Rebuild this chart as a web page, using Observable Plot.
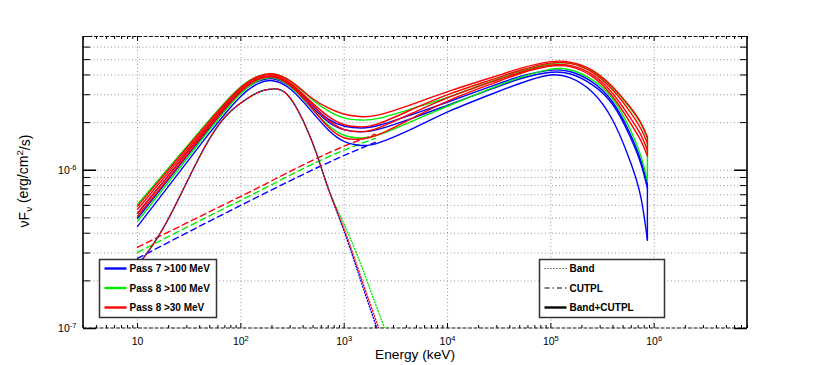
<!DOCTYPE html>
<html><head><meta charset="utf-8">
<script src="https://cdn.jsdelivr.net/npm/d3@7"></script>
<script src="https://cdn.jsdelivr.net/npm/@observablehq/plot@0.6"></script>
<style>
body{margin:0;background:#fff}
#chart{position:relative;width:830px;height:365px}
</style>
</head><body><div id="chart"></div>
<script>
// ---------- data (values in units of 1e-6 erg/cm^2/s) ----------
const unit = 1e-6;
const energies = [10,20,50,100,150,200,300,500,700,1000,1500,2000,5000,1e4,3e4,5e4,1e5,1.5e5,2.5e5,4e5,6e5,7.5e5,8.6e5];

// Band+CUTPL, Pass 8 >30 MeV (red)
const red1 = [0.592,1.01,2.07,3.45,3.99,4.17,3.77,2.77,2.47,2.23,2.17,2.17,2.66,3.16,3.94,4.42,4.93,4.90,4.42,3.40,2.47,2.01,1.62];
const red2 = [0.566,0.971,2.01,3.40,3.94,4.11,3.66,2.62,2.17,1.90,1.87,1.90,2.50,3.03,3.82,4.30,4.83,4.83,4.30,3.26,2.30,1.84,1.48];
const red3 = [0.534,0.930,1.95,3.30,3.88,4.05,3.61,2.54,2.04,1.77,1.74,1.79,2.36,2.90,3.71,4.17,4.69,4.69,4.17,3.12,2.10,1.69,1.34];
const red4 = [0.512,0.890,1.90,3.26,3.82,3.99,3.55,2.43,1.84,1.55,1.57,1.62,2.20,2.77,3.61,4.11,4.62,4.62,4.05,2.98,1.95,1.55,1.23];
// Band+CUTPL, Pass 8 >100 MeV (green)
const green1 = [0.609,1.03,2.10,3.50,3.99,4.17,3.77,2.73,2.36,2.10,2.07,2.07,2.50,2.86,3.77,4.23,4.76,4.83,4.36,3.35,2.43,1.98,1.59];
const green2 = [0.476,0.839,1.82,3.16,3.77,3.94,3.50,2.40,1.90,1.62,1.59,1.62,2.10,2.54,3.40,3.88,4.42,4.42,3.82,2.94,1.79,1.24,0.864];
// Band+CUTPL, Pass 7 >100 MeV (blue)
const blue1 = [0.534,0.930,1.95,3.30,3.82,3.99,3.61,2.54,2.07,1.87,1.84,1.87,2.30,2.69,3.50,3.94,4.36,4.30,3.71,2.81,1.67,1.16,0.816];
const blue2 = [0.497,0.877,1.87,3.21,3.71,3.88,3.50,2.47,1.98,1.77,1.74,1.77,2.17,2.58,3.35,3.82,4.23,4.17,3.55,2.73,1.59,1.11,0.769];
const blue3 = [0.442,0.792,1.74,3.03,3.61,3.77,3.40,2.30,1.77,1.48,1.42,1.44,1.87,2.36,3.12,3.55,4.11,3.94,3.26,2.17,1.11,0.715,0.361];

// Band component (dotted)
const bandEnergies = [10,20,50,100,150,200,300,500,700,1000,1500,2000,2500,3000];
const bandBlue  = [0.250,0.497,1.59,2.66,3.12,3.26,2.86,1.46,0.769,0.411,0.1872,0.1076,0.0705,null];
const bandRed   = [0.250,0.497,1.59,2.66,3.12,3.26,2.86,1.46,0.769,0.423,0.1984,0.1157,0.0758,null];
const bandGreen = [0.250,0.497,1.59,2.66,3.12,3.26,2.86,1.46,0.769,0.455,0.2398,0.1440,0.0971,0.0665];

// CUTPL component (dashed)
const cutEnergies = [10,100,1000,2000];
const cutRed   = [0.326,0.684,1.419,1.690];
const cutGreen = [0.303,0.646,1.34,1.59];
const cutBlue  = [0.277,0.600,1.24,1.50];

// ticks / labels
const xDomain = [3, 8e6];
const yDomain = [1e-7, 7e-6];
const majorX = [10, 100, 1e3, 1e4, 1e5, 1e6];
const majorXLabels = ["10", "10^2", "10^3", "10^4", "10^5", "10^6"];
const majorY = [1e-7, 1e-6];
const majorYLabels = ["10^-7", "10^-6"];
const mantissas = [2,3,4,5,6,7,8,9];

const seriesNames = ["Pass 7 >100 MeV", "Pass 8 >100 MeV", "Pass 8 >30 MeV"];
const seriesColors = ["#0000ff", "#00ee00", "#ff0000"];
const modelNames = ["Band", "CUTPL", "Band+CUTPL"];

// ---------- layout ----------
const W = 830, H = 365;
const mL = 83, mR = 83, mT = 36, mB = 37;
const plotW = W - mL - mR, plotH = H - mT - mB;
const font = "'Liberation Sans', Arial, Helvetica, sans-serif";

const minorX = [1,10,100,1e3,1e4,1e5,1e6].flatMap(d => mantissas.map(m => m*d))
  .filter(v => v >= xDomain[0] && v <= xDomain[1]);
const minorY = [1e-7,1e-6].flatMap(d => mantissas.map(m => m*d))
  .filter(v => v <= yDomain[1]);
const gridYvals = minorY.concat([1e-6]).filter(v => v < yDomain[1]);

function rows(curves) {
  return curves.flatMap((arr, k) => arr.map((v, j) => ({E: energies[j], F: v*unit, k})));
}
function simple(xs, ys) {
  return ys.map((v, j) => ({E: xs[j], F: v == null ? NaN : v*unit})).filter(d => !isNaN(d.F));
}
const solidSets = [[blue1,blue2,blue3],[green1,green2],[red1,red2,red3,red4]];
const bandSets = [bandBlue, bandGreen, bandRed];
const cutSets = [cutBlue, cutGreen, cutRed];

const marks = [
  Plot.gridX(majorX, {stroke: "#999", strokeOpacity: 1, strokeWidth: 1, strokeDasharray: "1,2.5"}),
  Plot.gridY(gridYvals, {stroke: "#999", strokeOpacity: 1, strokeWidth: 1, strokeDasharray: "1,2.5"}),
];
// CUTPL dashed
[0,1,2].forEach(i => {
  marks.push(Plot.line(simple(cutEnergies, cutSets[i]), {x: "E", y: "F", stroke: seriesColors[i], strokeWidth: 1.4, strokeDasharray: "6,4", curve: "monotone-x"}));
});
// Band dotted (interleaved colours)
[1,0,2].forEach((i, n) => {
  marks.push(Plot.line(simple(bandEnergies, bandSets[i]), {x: "E", y: "F", stroke: seriesColors[i], strokeWidth: 1.4, strokeDasharray: "1,2", strokeDashoffset: n, curve: "natural", clip: true}));
});
// Band+CUTPL solid bundles
[0,1,2].forEach(i => {
  const r = rows(solidSets[i]);
  marks.push(Plot.line(r, {x: "E", y: "F", z: "k", stroke: seriesColors[i], strokeWidth: 1.4, curve: "basis"}));
  const last = solidSets[i].map(a => a[a.length-1]*unit);
  marks.push(Plot.ruleX([{E: energies[energies.length-1], lo: d3.min(last), hi: d3.max(last)}], {x: "E", y1: "lo", y2: "hi", stroke: seriesColors[i], strokeWidth: 1.4}));
});
// tick marks (inward)
marks.push(
  Plot.tickX(majorX, {x: d => d, insetTop: plotH - 5, stroke: "#000"}),
  Plot.tickX(majorX, {x: d => d, insetBottom: plotH - 5, stroke: "#000"}),
  Plot.tickX(minorX, {x: d => d, insetTop: plotH - 3, stroke: "#000"}),
  Plot.tickX(minorX, {x: d => d, insetBottom: plotH - 3, stroke: "#000"}),
  Plot.tickY(majorY, {y: d => d, insetRight: plotW - 13, stroke: "#000", strokeWidth: 1.5}),
  Plot.tickY(majorY, {y: d => d, insetLeft: plotW - 13, stroke: "#000", strokeWidth: 1.5}),
  Plot.tickY(minorY, {y: d => d, insetRight: plotW - 7, stroke: "#000"}),
  Plot.tickY(minorY, {y: d => d, insetLeft: plotW - 7, stroke: "#000"}),
  Plot.axisX(majorX, {anchor: "bottom", tickSize: 0, tickPadding: 9, fontSize: 10.5, tickFormat: d => majorXLabels[majorX.indexOf(d)]}),
  Plot.axisY(majorY, {anchor: "left", tickSize: 0, tickPadding: 7, fontSize: 10.5, tickFormat: d => majorYLabels[majorY.indexOf(d)]})
);

const plot = Plot.plot({
  width: W, height: H,
  marginLeft: mL, marginRight: mR, marginTop: mT, marginBottom: mB,
  x: {type: "log", domain: xDomain, label: null},
  y: {type: "log", domain: yDomain, label: null},
  style: {fontFamily: font, fontSize: "10.5px", background: "white", color: "#000"},
  marks
});
document.getElementById("chart").appendChild(plot);

const svg = d3.select(plot);
// superscripts in tick labels
svg.selectAll("text").each(function() {
  const t = this.textContent;
  if (t.includes("^")) {
    const [b, e] = t.split("^");
    const s = d3.select(this);
    s.text(b);
    s.append("tspan").attr("dy", "-0.5em").attr("font-size", "0.72em").text(e);
  }
});

const g = svg.append("g");
// frame
g.append("line").attr("x1", mL).attr("x2", mL).attr("y1", mT).attr("y2", mT+plotH).attr("stroke", "#000").attr("stroke-width", 1.6);
g.append("line").attr("x1", mL+plotW).attr("x2", mL+plotW).attr("y1", mT).attr("y2", mT+plotH).attr("stroke", "#000").attr("stroke-width", 1.6);
g.append("line").attr("x1", mL).attr("x2", mL+plotW).attr("y1", mT+0.5).attr("y2", mT+0.5).attr("stroke", "#111").attr("stroke-width", 1.1).attr("stroke-dasharray", "4,1.5");
g.append("line").attr("x1", mL).attr("x2", mL+plotW).attr("y1", mT+plotH).attr("y2", mT+plotH).attr("stroke", "#111").attr("stroke-width", 1.1).attr("stroke-dasharray", "4,1.5");

// axis titles
g.append("text").attr("x", mL + plotW/2).attr("y", 359).attr("text-anchor", "middle")
  .attr("font-family", font).attr("font-size", 13.7).attr("fill", "#000").text("Energy (keV)");
const yt = g.append("text").attr("transform", "translate(29,181) rotate(-90)").attr("text-anchor", "middle")
  .attr("font-family", font).attr("font-size", 14).attr("fill", "#000");
yt.append("tspan").text("νF");
yt.append("tspan").attr("font-size", "0.7em").attr("dy", "0.3em").text("ν");
yt.append("tspan").attr("dy", "-0.3em").text(" (erg/cm");
yt.append("tspan").attr("font-size", "0.7em").attr("dy", "-0.5em").text("2");
yt.append("tspan").attr("dy", "0.5em").text("/s)");

// legends
function legend(x, y, w, items) {
  const lg = g.append("g");
  lg.append("rect").attr("x", x).attr("y", y).attr("width", w).attr("height", 58)
    .attr("fill", "#fff").attr("stroke", "#333").attr("stroke-width", 1.5);
  items.forEach((it, i) => {
    const yy = y + 9 + i*19.5;
    lg.append("line").attr("x1", x+5).attr("x2", x+27).attr("y1", yy).attr("y2", yy)
      .attr("stroke", it.color).attr("stroke-width", it.width).attr("stroke-dasharray", it.dash || null);
    lg.append("text").attr("x", x+30).attr("y", yy+3.6).attr("text-anchor", "start")
      .attr("font-family", font).attr("font-weight", "bold")
      .attr("font-size", 10).attr("fill", "#000").text(it.label);
  });
}
legend(99.5, 259.5, 117, seriesNames.map((s, i) => ({label: s, color: seriesColors[i], width: 2.4})));
legend(539.5, 259.5, 125, [
  {label: modelNames[0], color: "#000", width: 1.2, dash: "1,2"},
  {label: modelNames[1], color: "#000", width: 1.2, dash: "5,3,1.5,3"},
  {label: modelNames[2], color: "#000", width: 2.4}
]);
</script>
</body></html>
